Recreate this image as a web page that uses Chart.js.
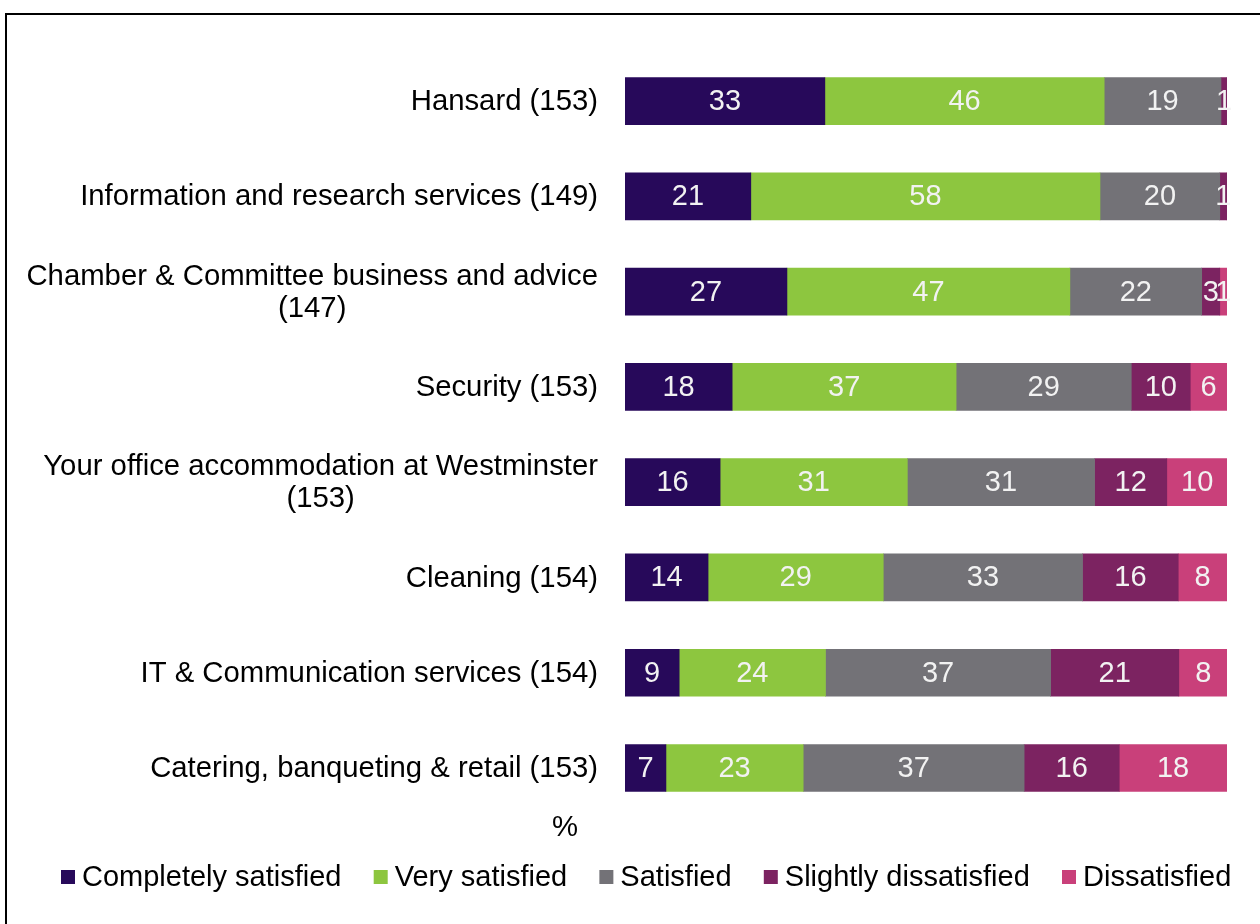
<!DOCTYPE html>
<html>
<head>
<meta charset="utf-8">
<script src="https://cdn.jsdelivr.net/npm/chart.js@4"></script>
<style>
  body { margin: 0; background: #fff; }
  .wrap { position: relative; width: 1260px; height: 924px; overflow: hidden; }
  .frame { position: absolute; left: 5px; top: 13px; width: 1400px; height: 1100px; border: 2px solid #000; pointer-events: none; }
</style>
</head>
<body>
<div class="wrap">
  <canvas id="myChart" width="1260" height="924"></canvas>
  <div class="frame"></div>
</div>
<script>
const categories = [
  ['Hansard (153)'],
  ['Information and research services (149)'],
  ['Chamber & Committee business and advice', '(147)'],
  ['Security (153)'],
  ['Your office accommodation at Westminster', '(153)'],
  ['Cleaning (154)'],
  ['IT & Communication services (154)'],
  ['Catering, banqueting & retail (153)']
]
const series_names = ['Completely satisfied', 'Very satisfied', 'Satisfied', 'Slightly dissatisfied', 'Dissatisfied']
const completely_satisfied = [33.2, 20.9, 26.9, 17.8, 15.8, 13.8, 9.0, 6.8]
const very_satisfied = [46.4, 58.0, 47.0, 37.2, 31.1, 29.1, 24.3, 22.8]
const satisfied = [19.4, 19.9, 21.9, 29.1, 31.1, 33.1, 37.4, 36.7]
const slightly_dissatisfied = [1.0, 1.2, 3.0, 9.8, 12.0, 15.9, 21.3, 15.8]
const dissatisfied = [0, 0, 1.2, 6.1, 10.1, 8.1, 8.1, 17.9]
const colors = ['#27095A', '#8DC63F', '#737277', '#7C2361', '#C9407A']
const FONT = 'Liberation Sans, Arial, sans-serif'
const ctx = document.getElementById('myChart');

// white numbers inside each segment
const barLabels = {
  id: 'barLabels',
  afterDatasetsDraw(chart) {
    const c = chart.ctx
    c.save()
    c.font = `29px ${FONT}`
    c.fillStyle = '#F2F2F2'
    c.textAlign = 'center'
    c.textBaseline = 'middle'
    chart.data.datasets.forEach((ds, i) => {
      chart.getDatasetMeta(i).data.forEach((bar, j) => {
        const v = Math.round(ds.data[j])
        if (v === 0) return
        const p = bar.getProps(['x', 'base', 'y'], true)
        c.fillText(v, (p.x + p.base) / 2, p.y + 1)
      })
    })
    c.restore()
  }
}

// category labels, right aligned block with centred lines, the % mark and the legend row
const sideLabels = {
  id: 'sideLabels',
  afterDraw(chart) {
    const c = chart.ctx
    const y = chart.scales.y
    const right = chart.chartArea.left - 27
    c.save()
    c.font = `29.3px ${FONT}`
    c.fillStyle = '#000'
    c.textBaseline = 'middle'
    c.textAlign = 'center'
    categories.forEach((lines, i) => {
      const w = Math.max(...lines.map(l => c.measureText(l).width))
      const cx = right - w / 2
      const cy = y.getPixelForValue(i)
      const lh = 32
      lines.forEach((l, k) => {
        c.fillText(l, cx, cy + (k - (lines.length - 1) / 2) * lh + 1)
      })
    })
    c.fillText('%', 565, 828)

    // legend
    c.font = `29px ${FONT}`
    const items = chart.data.datasets
    const widths = items.map(d => c.measureText(d.label).width)
    const firstBox = 61, lastBox = 1062, box = 14, gap = 7
    const used = widths.slice(0, -1).reduce((a, b) => a + b, 0) + (items.length - 1) * (box + gap)
    const spacing = (lastBox - firstBox - used) / (items.length - 1)
    let x = firstBox
    c.textAlign = 'left'
    items.forEach((d, i) => {
      c.fillStyle = d.backgroundColor
      c.fillRect(x, 870, box, box)
      c.fillStyle = '#000'
      c.fillText(d.label, x + box + gap, 878)
      x += box + gap + widths[i] + spacing
    })
    c.restore()
  }
}

const datasets = [completely_satisfied, very_satisfied, satisfied, slightly_dissatisfied, dissatisfied].map((d, i) => ({
  label: series_names[i],
  data: d,
  backgroundColor: colors[i],
  borderWidth: 0,
  barThickness: 47
}))

new Chart(ctx, {
  type: 'bar',
  data: {
    labels: categories.map(l => l.join(' ')),
    datasets: datasets
  },
  options: {
    indexAxis: 'y',
    responsive: false,
    animation: false,
    layout: { padding: { left: 67, right: 33, top: 53.5, bottom: 108.4 } },
    scales: {
      x: {
        stacked: true,
        min: 0,
        max: 100,
        display: false
      },
      y: {
        stacked: true,
        grid: { display: false },
        border: { display: false },
        ticks: { display: false },
        afterFit(scale) { scale.width = 558 }
      }
    },
    plugins: {
      tooltip: { enabled: false },
      legend: { display: false }
    }
  },
  plugins: [barLabels, sideLabels]
})
</script>
</body>
</html>
